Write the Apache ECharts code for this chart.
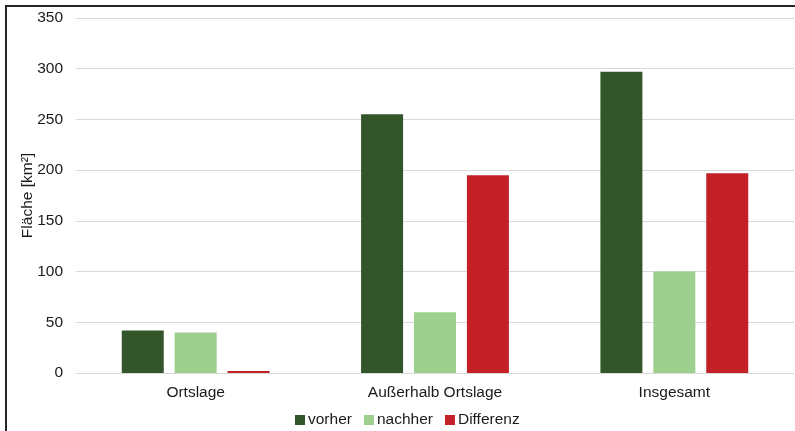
<!DOCTYPE html>
<html>
<head>
<meta charset="utf-8">
<script src="https://cdn.jsdelivr.net/npm/echarts@6/dist/echarts.min.js"></script>
<style>
  html, body { margin: 0; padding: 0; background: #fff; }
  #frame {
    position: absolute; left: 5px; top: 5px; width: 820px; height: 460px;
    border-top: 2px solid #262626; border-left: 2px solid #262626;
  }
  #chart { position: absolute; left: 0; top: 0; width: 795px; height: 431px; }
</style>
</head>
<body>
<div id="frame"></div>
<div id="chart"></div>
<script>
// Kategorien und Werte (km²)
const categories = ['Ortslage', 'Außerhalb Ortslage', 'Insgesamt'];
const vorher = [42, 255, 297];
const nachher = [40, 60, 100];
const differenz = [2, 195, 197];

const font = '"Liberation Sans", Arial, sans-serif';

const chart = echarts.init(document.getElementById('chart'));

const option = {
  animation: false,
  textStyle: { fontFamily: font },
  legend: {
    data: ['vorher', 'nachher', 'Differenz'],
    top: 407,
    left: 290,
    icon: 'rect',
    itemWidth: 10,
    itemHeight: 10,
    itemGap: 12,
    textStyle: { fontSize: 15.5, color: '#1a1a1a', fontFamily: font, padding: [0, 0, 0, -2] },
  },
  grid: {
    left: 76,
    right: 1,
    top: 18,
    bottom: 58,
    containLabel: false,
  },
  xAxis: {
    type: 'category',
    data: categories,
    axisLine: { lineStyle: { color: '#d9d9d9', width: 1 } },
    axisTick: { show: false },
    axisLabel: { fontSize: 15.5, color: '#1a1a1a', margin: 12, fontFamily: font },
  },
  yAxis: {
    type: 'value',
    min: 0,
    max: 350,
    interval: 50,
    name: 'Fläche [km²]',
    nameLocation: 'middle',
    nameGap: 40,
    nameMoveOverlap: false,
    nameTextStyle: { fontSize: 15.5, color: '#1a1a1a', fontFamily: font },
    axisLine: { show: false },
    axisTick: { show: false },
    axisLabel: { fontSize: 15.5, color: '#1a1a1a', margin: 13, fontFamily: font },
    splitLine: { lineStyle: { color: '#d9d9d9', width: 1 } },
  },
  series: [
    {
      name: 'vorher',
      type: 'bar',
      data: vorher,
      barWidth: 42,
      barGap: '26%',
      itemStyle: { color: '#33552a' },
    },
    {
      name: 'nachher',
      type: 'bar',
      data: nachher,
      barWidth: 42,
      barGap: '26%',
      itemStyle: { color: '#9dcf8f' },
    },
    {
      name: 'Differenz',
      type: 'bar',
      data: differenz,
      barWidth: 42,
      barGap: '26%',
      itemStyle: { color: '#c42027' },
    },
  ],
};

chart.setOption(option);
</script>
</body>
</html>
